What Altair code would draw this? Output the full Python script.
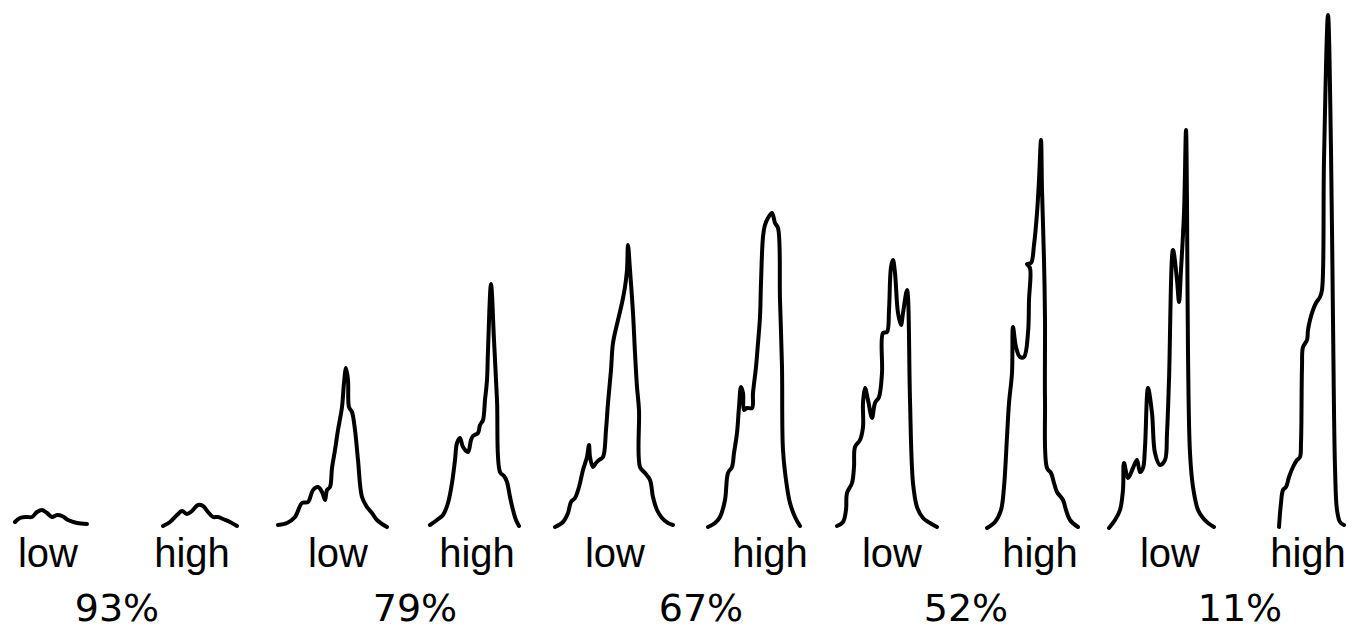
import altair as alt
import pandas as pd

# ---- traced curves: horizontal position and height above the baseline ----
curve_ids = ["93 low", "93 high", "79 low", "79 high", "67 low",
             "67 high", "52 low", "52 high", "11 low", "11 high"]

c93_low_x = [15, 20, 27, 32, 37, 42, 47, 52, 57, 62, 68, 77, 87]
c93_low_h = [8, 12, 13, 13, 18, 20, 17, 13, 15, 14, 10, 7, 6]

c93_high_x = [163, 170, 177, 182, 187, 192, 198, 203, 208, 213, 218, 223, 230, 237]
c93_high_h = [4, 8, 15, 19, 16, 19, 25, 24, 18, 13, 13, 11, 8, 4]

c79_low_x = [278, 287, 295, 302, 308, 313, 318, 322, 325, 327, 330, 332, 335, 338,
             342, 344, 346, 348, 349, 352, 355, 358, 362, 367, 372, 377, 387]
c79_low_h = [5, 7, 13, 27, 28, 40, 43, 38, 30, 40, 43, 62, 80, 100,
             123, 147, 162, 150, 123, 118, 100, 70, 33, 23, 17, 10, 3]

c79_high_x = [430, 437, 443, 448, 452, 455, 457, 460, 463, 468, 471, 473, 478, 480,
              483, 485, 487, 488, 491, 494, 497, 500, 504, 507, 510, 513, 516, 519]
c79_high_h = [5, 10, 15, 27, 47, 70, 87, 92, 83, 78, 90, 94, 97, 105,
              110, 130, 150, 180, 246, 190, 130, 58, 54, 48, 33, 20, 10, 4]

c67_low_x = [555, 563, 568, 571, 575, 579, 583, 587, 589, 590, 593, 596, 599, 603,
             606, 608, 611, 613, 618, 622, 625, 627, 628, 630, 633, 635, 637, 639,
             640, 645, 650, 653, 657, 662, 668, 673]
c67_low_h = [3, 8, 17, 28, 32, 43, 60, 73, 85, 73, 63, 67, 70, 73,
             100, 127, 160, 187, 210, 227, 243, 260, 285, 260, 217, 177, 143, 120,
             63, 57, 50, 33, 20, 12, 7, 5]

c67_high_x = [708, 715, 720, 725, 728, 732, 734, 737, 739, 741, 743, 744, 747, 752,
              753, 756, 758, 760, 761, 763, 765, 768, 772, 775, 778, 780, 782, 783,
              787, 790, 795, 800]
c67_high_h = [3, 7, 13, 30, 57, 63, 77, 97, 123, 143, 137, 120, 122, 122,
              137, 163, 187, 213, 247, 293, 305, 312, 317, 307, 302, 230, 163, 80,
              43, 27, 13, 4]

c52_low_x = [837, 843, 846, 847, 852, 854, 855, 860, 863, 863, 865, 868, 872, 875,
             879, 882, 883, 887, 889, 891, 893, 895, 898, 901, 903, 907, 908, 910,
             913, 917, 923, 930, 937]
c52_low_h = [4, 8, 20, 37, 47, 63, 83, 90, 103, 127, 142, 130, 112, 127,
             133, 157, 197, 198, 220, 263, 270, 257, 217, 205, 217, 240, 233, 130,
             47, 23, 12, 7, 3]

c52_high_x = [987, 995, 1001, 1004, 1007, 1009, 1012, 1013, 1016, 1020, 1024, 1028,
              1029, 1030, 1027, 1031, 1034, 1037, 1039, 1041, 1042, 1044, 1045, 1045,
              1047, 1051, 1054, 1057, 1063, 1066, 1070, 1078]
c52_high_h = [2, 8, 20, 43, 93, 127, 157, 203, 183, 173, 173, 197,
              230, 262, 266, 267, 285, 317, 350, 390, 340, 270, 210, 130,
              62, 57, 47, 38, 30, 20, 10, 3]

c11_low_x = [1109, 1115, 1120, 1123, 1124, 1128, 1133, 1137, 1140, 1143, 1145, 1148,
             1152, 1155, 1160, 1165, 1167, 1169, 1173, 1177, 1179, 1181, 1184, 1186,
             1187, 1188, 1190, 1193, 1198, 1203, 1208, 1214]
c11_low_h = [2, 10, 20, 40, 67, 52, 62, 70, 58, 62, 83, 142,
             117, 77, 65, 70, 97, 150, 280, 250, 228, 260, 317, 400,
             327, 177, 77, 43, 20, 12, 7, 3]

c11_high_x = [1279, 1281, 1283, 1286, 1289, 1293, 1297, 1300, 1301, 1302, 1303, 1307,
              1308, 1310, 1313, 1316, 1320, 1322, 1324, 1328, 1331, 1333, 1335,
              1337, 1340, 1344]
c11_high_h = [3, 27, 40, 43, 53, 63, 70, 73, 87, 163, 183, 190,
              200, 210, 220, 227, 233, 240, 370, 515, 380, 210, 63,
              20, 8, 5]

curve_xs = [c93_low_x, c93_high_x, c79_low_x, c79_high_x, c67_low_x,
            c67_high_x, c52_low_x, c52_high_x, c11_low_x, c11_high_x]
curve_hs = [c93_low_h, c93_high_h, c79_low_h, c79_high_h, c67_low_h,
            c67_high_h, c52_low_h, c52_high_h, c11_low_h, c11_high_h]

# ---- labels ----
level_labels = ["low", "high", "low", "high", "low", "high", "low", "high", "low", "high"]
level_label_x = [48, 192, 338, 477, 615, 770, 892, 1040, 1170, 1308]
level_label_h = [-37] * 10

pct_labels = ["93%", "79%", "67%", "52%", "11%"]
pct_label_x = [117, 415, 701, 966, 1240]
pct_label_h = [-91] * 5

rows = []
for cid, xs, hs in zip(curve_ids, curve_xs, curve_hs):
    for i, (x, h) in enumerate(zip(xs, hs)):
        rows.append({"curve": cid, "order": i, "x": x, "h": h})
curves_df = pd.DataFrame(rows)

lvl_df = pd.DataFrame({"x": level_label_x, "h": level_label_h, "label": level_labels})
pct_df = pd.DataFrame({"x": pct_label_x, "h": pct_label_h, "label": pct_labels})

xscale = alt.Scale(domain=[8, 1346], nice=False, zero=False)
yscale = alt.Scale(domain=[-92, 522], nice=False, zero=False)

lines = alt.Chart(curves_df).mark_line(
    color="black", strokeWidth=4, strokeJoin="round", strokeCap="round",
    interpolate="catmull-rom"
).encode(
    x=alt.X("x:Q", scale=xscale, axis=None),
    y=alt.Y("h:Q", scale=yscale, axis=None),
    detail="curve:N",
    order="order:Q",
)

lvl = alt.Chart(lvl_df).mark_text(
    font="Liberation Sans", fontSize=40, color="black", align="center", baseline="alphabetic"
).encode(
    x=alt.X("x:Q", scale=xscale, axis=None),
    y=alt.Y("h:Q", scale=yscale, axis=None),
    text="label:N",
)

pct = alt.Chart(pct_df).mark_text(
    font="DejaVu Sans", fontSize=38, color="black", align="center", baseline="alphabetic"
).encode(
    x=alt.X("x:Q", scale=xscale, axis=None),
    y=alt.Y("h:Q", scale=yscale, axis=None),
    text="label:N",
)

chart = alt.layer(lines, lvl, pct).properties(
    width=1338, height=614, padding=0,
    view=alt.ViewBackground(strokeOpacity=0, strokeWidth=0)
).configure_view(strokeOpacity=0, strokeWidth=0).configure(background="white")

chart.save("out.html", embed_options={"renderer": "svg", "actions": False})
